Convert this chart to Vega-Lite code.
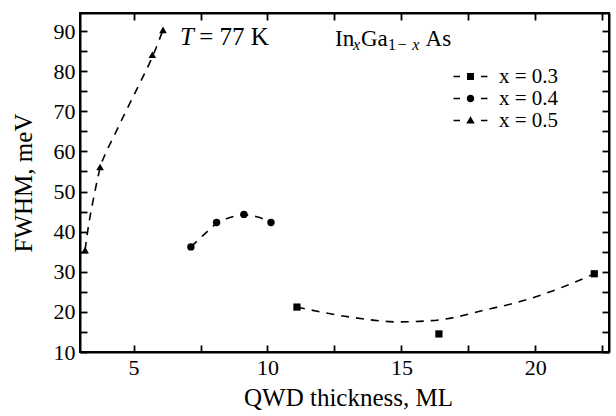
{
  "$schema": "https://vega.github.io/schema/vega-lite/v6.json",
  "width": 529,
  "height": 339,
  "autosize": "none",
  "padding": {"left": 80, "top": 13, "right": 7, "bottom": 64},
  "background": "white",
  "datasets": {
    "pts": [
      {"series": "x = 0.3", "x": 11.1, "y": 21.2},
      {"series": "x = 0.3", "x": 16.4, "y": 14.5},
      {"series": "x = 0.3", "x": 22.2, "y": 29.5},
      {"series": "x = 0.4", "x": 7.14, "y": 36.2},
      {"series": "x = 0.4", "x": 8.1, "y": 42.3},
      {"series": "x = 0.4", "x": 9.12, "y": 44.3},
      {"series": "x = 0.4", "x": 10.13, "y": 42.3},
      {"series": "x = 0.5", "x": 3.19, "y": 35.4},
      {"series": "x = 0.5", "x": 3.75, "y": 56.1},
      {"series": "x = 0.5", "x": 5.7, "y": 84.1},
      {"series": "x = 0.5", "x": 6.1, "y": 90.3}
    ],
    "fit": [
      {"series": "x = 0.3", "x": 11.1, "y": 21.2},
      {"series": "x = 0.3", "x": 13.1, "y": 18.7},
      {"series": "x = 0.3", "x": 14.9, "y": 17.5},
      {"series": "x = 0.3", "x": 16.4, "y": 18.0},
      {"series": "x = 0.3", "x": 18.2, "y": 20.6},
      {"series": "x = 0.3", "x": 19.4, "y": 22.5},
      {"series": "x = 0.3", "x": 21.4, "y": 27.2},
      {"series": "x = 0.3", "x": 22.2, "y": 29.5},
      {"series": "x = 0.4", "x": 7.14, "y": 36.2},
      {"series": "x = 0.4", "x": 7.7, "y": 39.7},
      {"series": "x = 0.4", "x": 8.1, "y": 42.0},
      {"series": "x = 0.4", "x": 8.6, "y": 43.5},
      {"series": "x = 0.4", "x": 9.1, "y": 44.2},
      {"series": "x = 0.4", "x": 9.6, "y": 43.7},
      {"series": "x = 0.4", "x": 10.13, "y": 42.4},
      {"series": "x = 0.5", "x": 3.19, "y": 35.4},
      {"series": "x = 0.5", "x": 3.26, "y": 38.9},
      {"series": "x = 0.5", "x": 3.34, "y": 42.4},
      {"series": "x = 0.5", "x": 3.45, "y": 46.4},
      {"series": "x = 0.5", "x": 3.56, "y": 50.1},
      {"series": "x = 0.5", "x": 3.67, "y": 53.6},
      {"series": "x = 0.5", "x": 3.78, "y": 56.6},
      {"series": "x = 0.5", "x": 3.93, "y": 59.1},
      {"series": "x = 0.5", "x": 4.23, "y": 63.3},
      {"series": "x = 0.5", "x": 4.72, "y": 70.1},
      {"series": "x = 0.5", "x": 5.24, "y": 77.1},
      {"series": "x = 0.5", "x": 5.73, "y": 84.0},
      {"series": "x = 0.5", "x": 6.1, "y": 90.3}
    ]
  },
  "resolve": {"axis": {"x": "independent", "y": "independent"}, "scale": {"shape": "independent", "size": "independent"}},
  "layer": [
    {
      "data": {"name": "fit"},
      "mark": {"type": "line", "color": "black", "strokeWidth": 1.6, "strokeDash": [8, 7], "interpolate": "monotone"},
      "encoding": {
        "x": {"field": "x", "type": "quantitative", "scale": {"domain": [3, 22.75], "nice": false, "zero": false},
          "axis": {"orient": "bottom", "values": [5, 7.5, 10, 12.5, 15, 17.5, 20, 22.5], "labelExpr": "datum.value % 5 === 0 ? format(datum.value, 'd') : ''", "title": "QWD thickness, ML", "titleX": 268, "titleY": 53, "titleBaseline": "alphabetic", "titleAlign": "center", "labelPadding": 12, "labelOverlap": false, "labelFlush": false, "labelFont": "Liberation Serif", "labelFontSize": 22, "titleFont": "Liberation Serif", "titleFontSize": 25}},
        "y": {"field": "y", "type": "quantitative", "scale": {"domain": [10, 94.5], "nice": false, "zero": false},
          "axis": {"orient": "left", "values": [10, 15, 20, 25, 30, 35, 40, 45, 50, 55, 60, 65, 70, 75, 80, 85, 90], "labelExpr": "datum.value % 10 === 0 ? format(datum.value, 'd') : ''", "title": "FWHM, meV", "titleX": -57, "titleY": 169.5, "titleBaseline": "middle", "titleAlign": "center", "titleAngle": -90, "labelPadding": 12, "labelOverlap": false, "labelFlush": false, "labelFont": "Liberation Serif", "labelFontSize": 22, "titleFont": "Liberation Serif", "titleFontSize": 25}},
        "detail": {"field": "series", "type": "nominal"}
      }
    },
    {
      "data": {"name": "pts"},
      "mark": {"type": "point", "filled": true, "color": "black", "opacity": 1, "strokeWidth": 0},
      "encoding": {
        "x": {"field": "x", "type": "quantitative", "scale": {"domain": [3, 22.75], "nice": false, "zero": false},
          "axis": {"orient": "top", "values": [5, 7.5, 10, 12.5, 15, 17.5, 20, 22.5], "labels": false, "title": null}},
        "y": {"field": "y", "type": "quantitative", "scale": {"domain": [10, 94.5], "nice": false, "zero": false},
          "axis": {"orient": "right", "values": [10, 15, 20, 25, 30, 35, 40, 45, 50, 55, 60, 65, 70, 75, 80, 85, 90], "labels": false, "title": null}},
        "shape": {"field": "series", "type": "nominal", "scale": {"range": ["square", "circle", "triangle-up"]}, "legend": null},
        "size": {"field": "series", "type": "nominal", "scale": {"range": [52, 58, 85]}, "legend": null}
      }
    },
    {
      "data": {"name": "pts"},
      "mark": {"type": "point", "filled": true, "color": "black", "opacity": 0},
      "encoding": {
        "x": {"field": "x", "type": "quantitative", "scale": {"domain": [3, 22.75], "nice": false, "zero": false}, "axis": null},
        "y": {"field": "y", "type": "quantitative", "scale": {"domain": [10, 94.5], "nice": false, "zero": false}, "axis": null},
        "shape": {"field": "series", "type": "nominal",
          "scale": {"range": [
            "M-3.4,-0.13H-2.1V0.13H-3.4Z M-0.7,-0.7H0.7V0.7H-0.7Z M2.1,-0.13H3.4V0.13H2.1Z",
            "M-3.4,-0.13H-2.1V0.13H-3.4Z M0.75,0A0.75,0.75 0 1 1 -0.75,0A0.75,0.75 0 1 1 0.75,0Z M2.1,-0.13H3.4V0.13H2.1Z",
            "M-3.4,-0.13H-2.1V0.13H-3.4Z M-0.85,0.6L0.85,0.6L0,-0.85Z M2.1,-0.13H3.4V0.13H2.1Z"
          ]},
          "legend": {"title": null, "orient": "none", "legendX": 380, "legendY": 53, "padding": 0, "symbolSize": 100,
            "symbolFillColor": "black", "symbolStrokeColor": "black", "symbolStrokeWidth": 0, "symbolOpacity": 1,
            "labelFont": "Liberation Serif", "labelFontSize": 21, "labelColor": "black", "labelOffset": 18, "rowPadding": 0, "labelLimit": 0}}
      }
    },
    {
      "data": {"values": [{}]},
      "mark": {"type": "text", "font": "Liberation Serif", "fontSize": 25, "fontStyle": "italic", "align": "left", "baseline": "alphabetic", "color": "black"},
      "encoding": {
        "x": {"datum": 6.73, "type": "quantitative", "scale": {"domain": [3, 22.75], "nice": false, "zero": false}, "axis": null},
        "y": {"datum": 86.5, "type": "quantitative", "scale": {"domain": [10, 94.5], "nice": false, "zero": false}, "axis": null},
        "text": {"value": "T"}
      }
    },
    {
      "data": {"values": [{}]},
      "mark": {"type": "text", "font": "Liberation Serif", "fontSize": 25, "align": "left", "baseline": "alphabetic", "color": "black"},
      "encoding": {
        "x": {"datum": 7.45, "type": "quantitative", "scale": {"domain": [3, 22.75], "nice": false, "zero": false}, "axis": null},
        "y": {"datum": 86.5, "type": "quantitative", "scale": {"domain": [10, 94.5], "nice": false, "zero": false}, "axis": null},
        "text": {"value": "= 77 K"}
      }
    },
    {
      "data": {"values": [{}]},
      "mark": {"type": "text", "font": "Liberation Serif", "fontSize": 23, "align": "left", "baseline": "alphabetic", "color": "black"},
      "encoding": {
        "x": {"datum": 12.52, "type": "quantitative", "scale": {"domain": [3, 22.75], "nice": false, "zero": false}, "axis": null},
        "y": {"datum": 86.27, "type": "quantitative", "scale": {"domain": [10, 94.5], "nice": false, "zero": false}, "axis": null},
        "text": {"value": "In"}
      }
    },
    {
      "data": {"values": [{}]},
      "mark": {"type": "text", "font": "Liberation Serif", "fontSize": 16, "fontStyle": "italic", "align": "left", "baseline": "alphabetic", "color": "black"},
      "encoding": {
        "x": {"datum": 13.19, "type": "quantitative", "scale": {"domain": [3, 22.75], "nice": false, "zero": false}, "axis": null},
        "y": {"datum": 85.28, "type": "quantitative", "scale": {"domain": [10, 94.5], "nice": false, "zero": false}, "axis": null},
        "text": {"value": "x"}
      }
    },
    {
      "data": {"values": [{}]},
      "mark": {"type": "text", "font": "Liberation Serif", "fontSize": 23, "align": "left", "baseline": "alphabetic", "color": "black"},
      "encoding": {
        "x": {"datum": 13.49, "type": "quantitative", "scale": {"domain": [3, 22.75], "nice": false, "zero": false}, "axis": null},
        "y": {"datum": 86.27, "type": "quantitative", "scale": {"domain": [10, 94.5], "nice": false, "zero": false}, "axis": null},
        "text": {"value": "Ga"}
      }
    },
    {
      "data": {"values": [{}]},
      "mark": {"type": "text", "font": "Liberation Serif", "fontSize": 16, "align": "left", "baseline": "alphabetic", "color": "black"},
      "encoding": {
        "x": {"datum": 14.5, "type": "quantitative", "scale": {"domain": [3, 22.75], "nice": false, "zero": false}, "axis": null},
        "y": {"datum": 85.28, "type": "quantitative", "scale": {"domain": [10, 94.5], "nice": false, "zero": false}, "axis": null},
        "text": {"value": "1"}
      }
    },
    {
      "data": {"values": [{}]},
      "mark": {"type": "text", "font": "Liberation Serif", "fontSize": 16, "align": "left", "baseline": "alphabetic", "color": "black"},
      "encoding": {
        "x": {"datum": 14.86, "type": "quantitative", "scale": {"domain": [3, 22.75], "nice": false, "zero": false}, "axis": null},
        "y": {"datum": 85.28, "type": "quantitative", "scale": {"domain": [10, 94.5], "nice": false, "zero": false}, "axis": null},
        "text": {"value": "−"}
      }
    },
    {
      "data": {"values": [{}]},
      "mark": {"type": "text", "font": "Liberation Serif", "fontSize": 16, "fontStyle": "italic", "align": "left", "baseline": "alphabetic", "color": "black"},
      "encoding": {
        "x": {"datum": 15.4, "type": "quantitative", "scale": {"domain": [3, 22.75], "nice": false, "zero": false}, "axis": null},
        "y": {"datum": 85.28, "type": "quantitative", "scale": {"domain": [10, 94.5], "nice": false, "zero": false}, "axis": null},
        "text": {"value": "x"}
      }
    },
    {
      "data": {"values": [{}]},
      "mark": {"type": "text", "font": "Liberation Serif", "fontSize": 23, "align": "left", "baseline": "alphabetic", "color": "black"},
      "encoding": {
        "x": {"datum": 15.9, "type": "quantitative", "scale": {"domain": [3, 22.75], "nice": false, "zero": false}, "axis": null},
        "y": {"datum": 86.27, "type": "quantitative", "scale": {"domain": [10, 94.5], "nice": false, "zero": false}, "axis": null},
        "text": {"value": "As"}
      }
    }
  ],
  "config": {
    "font": "Liberation Serif",
    "view": {"stroke": "black", "strokeWidth": 2},
    "axis": {
      "domainColor": "black", "domainWidth": 2, "tickColor": "black", "tickWidth": 1.8, "tickSize": -7,
      "labelColor": "black", "labelFontSize": 22, "labelFont": "Liberation Serif",
      "titleFont": "Liberation Serif", "titleFontSize": 25, "titleFontWeight": "normal", "titleColor": "black", "grid": false
    }
  }
}
